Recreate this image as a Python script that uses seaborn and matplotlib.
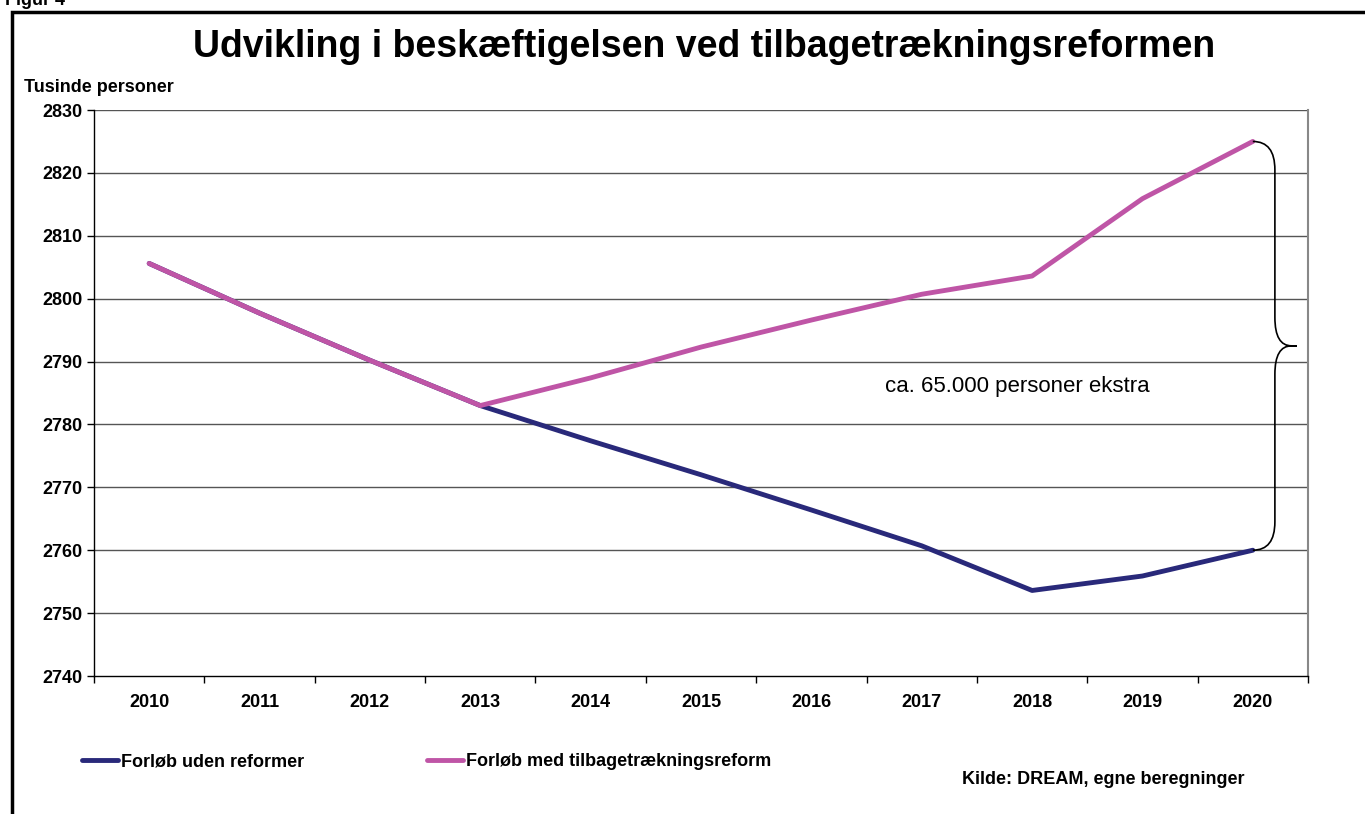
import matplotlib
matplotlib.use("Agg")
import matplotlib.pyplot as plt
import seaborn as sns
import pandas as pd
import numpy as np
from matplotlib.path import Path
from matplotlib.patches import PathPatch, Rectangle
from matplotlib.lines import Line2D

years = ["2010", "2011", "2012", "2013", "2014", "2015", "2016", "2017", "2018", "2019", "2020"]
uden_reformer = [2805.6, 2797.7, 2790.2, 2783.0, 2777.4, 2772.0, 2766.4, 2760.7, 2753.6, 2755.9, 2760.0]
med_reform = [2805.6, 2797.7, 2790.2, 2783.0, 2787.4, 2792.3, 2796.6, 2800.7, 2803.6, 2815.9, 2825.0]
series_names = ["Forløb uden reformer", "Forløb med tilbagetrækningsreform"]
yticks = [2740, 2750, 2760, 2770, 2780, 2790, 2800, 2810, 2820, 2830]
colors = ["#29297A", "#BF55A6"]

sns.set_theme(style="white")
plt.rcParams['font.family'] = ['Liberation Sans', 'DejaVu Sans']
plt.rcParams['text.color'] = 'black'
plt.rcParams['xtick.color'] = 'black'
plt.rcParams['ytick.color'] = 'black'

df = pd.DataFrame({
    "x": list(range(len(years))) * 2,
    "value": uden_reformer + med_reform,
    "serie": [series_names[0]] * len(years) + [series_names[1]] * len(years),
})

fig = plt.figure(figsize=(13.65, 8.14), dpi=100)
ax = fig.add_axes([94/1365, 1 - 676/814, (1308-94)/1365, (676-110)/814])

# gridlines
for v in yticks[1:]:
    ax.axhline(v, color="#555555", lw=1.0, zorder=1)

sns.lineplot(data=df[df.serie == series_names[0]], x="x", y="value", color=colors[0],
             lw=3.5, ax=ax, legend=False, zorder=3)
sns.lineplot(data=df[df.serie == series_names[1]], x="x", y="value", color=colors[1],
             lw=3.5, ax=ax, legend=False, zorder=4)

ax.set_xlim(-0.5, len(years) - 0.5)
ax.set_ylim(yticks[0], yticks[-1])
ax.set_yticks(yticks)
ax.set_yticklabels([str(v) for v in yticks], fontsize=13, fontweight="bold")
ax.set_xticks(range(len(years)))
ax.set_xticklabels(years, fontsize=13, fontweight="bold")
ax.set_xticks(np.arange(-0.5, len(years)), minor=True)
ax.tick_params(axis="x", which="major", length=0, pad=13)
ax.tick_params(axis="x", which="minor", length=5, width=1, direction="out", color="black", bottom=True)
ax.tick_params(axis="y", length=5, width=1, direction="out", color="black", left=True, pad=3)
ax.set_xlabel("")
ax.set_ylabel("")
for s in ["left", "bottom"]:
    ax.spines[s].set_color("black")
    ax.spines[s].set_linewidth(1.0)
ax.spines["right"].set_color("#888888")
ax.spines["right"].set_linewidth(1.5)
ax.spines["top"].set_visible(False)

# brace between the 2020 values
x0 = len(years) - 1
top = med_reform[-1]
bot = uden_reformer[-1]
mid = (top + bot) / 2
xc = x0 + 0.2
xt = x0 + 0.4
r = 4.5
verts = [(x0, top), (xc, top), (xc, top - r), (xc, top - r - 2),
         (xc, mid + r), (xc, mid), (xt - 0.05, mid), (xt, mid),
         (xt - 0.05, mid), (xc, mid), (xc, mid - r),
         (xc, bot + r + 2), (xc, bot + r), (xc, bot), (x0, bot)]
codes = [Path.MOVETO, Path.CURVE3, Path.CURVE3, Path.LINETO,
         Path.LINETO, Path.CURVE3, Path.CURVE3, Path.LINETO,
         Path.LINETO, Path.CURVE3, Path.CURVE3,
         Path.LINETO, Path.LINETO, Path.CURVE3, Path.CURVE3]
ax.add_patch(PathPatch(Path(verts, codes), fill=False, lw=1.2, color="black", zorder=5))
ax.text(x0 - 3.33, 2786.0, "ca. 65.000 personer ekstra", fontsize=16, ha="left", va="center")

# texts
fig.text(0.516, 1 - 47/814, "Udvikling i beskæftigelsen ved tilbagetrækningsreformen",
         fontsize=27, fontweight="bold", ha="center", va="center")
fig.text(24/1365, 1 - 88/814, "Tusinde personer", fontsize=13, fontweight="bold", ha="left", va="center")
fig.text(0.004, 1 - 5/814, "Figur 4", fontsize=13, fontweight="bold", ha="left", va="baseline")
fig.text(962/1365, 1 - 780/814, "Kilde: DREAM, egne beregninger", fontsize=13, fontweight="bold",
         ha="left", va="center")

handles = [Line2D([], [], color=c, lw=3.5, solid_capstyle="round") for c in colors]
fig.legend(handles, series_names, loc="center left", bbox_to_anchor=(82/1365, 1 - 762/814),
           ncol=2, frameon=False, borderpad=0, borderaxespad=0, handlelength=2.0,
           handletextpad=0.15, columnspacing=6.8, prop={"weight": "bold", "size": 13})

# frame
fig.patches.append(Rectangle((12/1365, -0.05), 1.0, 1 - 12/814 + 0.05, transform=fig.transFigure,
                             fill=False, lw=2.5, edgecolor="black", zorder=0))

fig.savefig("out.png", dpi=100)
